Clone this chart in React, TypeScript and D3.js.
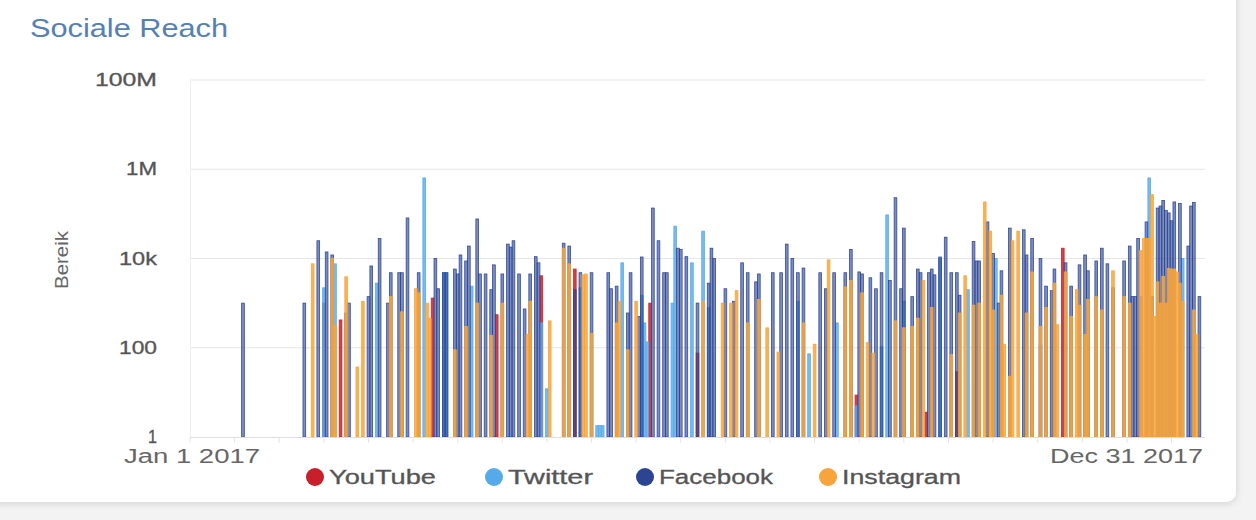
import React, { useEffect, useRef } from "react";
import * as d3 from "d3";

// [day of year, reach]
const youtube: [number, number][] = [
  [48, 1000], [54, 420], [87, 1300], [110, 550], [126, 4100], [138, 5800], [165, 1000],
  [182, 76], [239, 8.7], [264, 3.6], [275, 29], [313, 17000],
];

const twitter: [number, number][] = [
  [48, 2200], [52, 7600], [67, 2800], [84, 640000], [91, 4800], [92, 4800], [101, 2400],
  [126, 360], [128, 12], [140, 2200], [146, 1.8], [147, 1.8], [148, 1.8], [155, 8000],
  [162, 1500], [163, 360], [164, 135], [173, 1000], [174, 53000], [180, 8000], [184, 41000],
  [186, 800], [218, 1100], [222, 73], [232, 360], [239, 5], [248, 105], [250, 95000],
  [256, 1100], [269, 10000], [279, 2000], [289, 10000], [305, 115], [344, 640000], [356, 10000],
];

const facebook: [number, number][] = [
  [19, 1000], [41, 1000], [46, 25000], [49, 14000], [51, 12000], [56, 600], [57, 1000],
  [64, 1400], [65, 6800], [68, 28000], [71, 1000], [72, 4800], [75, 4800], [76, 4800],
  [78, 81000], [82, 4800], [88, 10000], [89, 2100], [91, 4800], [92, 4800], [95, 5800],
  [96, 4500], [97, 12000], [99, 8800], [100, 19000], [103, 77000], [104, 4500], [106, 4500],
  [108, 2000], [109, 7200], [112, 4500], [114, 21000], [115, 18000], [116, 25000], [118, 4500],
  [120, 740], [122, 4500], [124, 11000], [125, 8000], [134, 22000], [136, 19000], [138, 2000],
  [140, 4800], [144, 4800], [150, 4800], [151, 2100], [153, 2400], [157, 600], [158, 4800],
  [161, 500], [162, 10800], [166, 135000], [168, 25000], [170, 4800], [171, 4800], [175, 17000],
  [176, 16000], [178, 11000], [182, 1000], [186, 2800], [187, 17000], [188, 10000], [192, 2100],
  [195, 1100], [198, 8000], [200, 4800], [203, 3000], [204, 4500], [209, 4800], [212, 4800],
  [214, 21000], [216, 10000], [218, 4800], [220, 6100], [226, 4800], [228, 2100], [231, 4800],
  [235, 4800], [237, 16000], [240, 5000], [241, 4500], [244, 3700], [246, 2100], [248, 4800],
  [251, 3200], [253, 230000], [255, 2100], [256, 48000], [259, 1400], [261, 5800], [262, 4800],
  [265, 4800], [266, 5800], [267, 4300], [269, 10800], [271, 30000], [273, 4800], [275, 4800],
  [276, 1500], [281, 24000], [282, 8800], [283, 8800], [286, 66000], [288, 13000], [290, 1000],
  [291, 5300], [294, 48000], [299, 44000], [300, 12000], [302, 28000], [305, 10000], [307, 2400],
  [309, 1900], [310, 5800], [314, 8000], [316, 2400], [319, 7200], [321, 12000], [322, 5300],
  [325, 8800], [327, 17000], [329, 7600], [331, 2200], [335, 8800], [337, 19000], [338, 1400],
  [339, 1400], [340, 28000], [341, 1400], [343, 66000], [345, 1400], [347, 135000], [348, 150000],
  [349, 200000], [350, 120000], [351, 105000], [352, 70000], [353, 185000], [355, 170000],
  [358, 19000], [359, 150000], [360, 180000], [362, 1400],
];

const instagram: [number, number][] = [
  [44, 7600], [51, 10000], [52, 320], [56, 3900], [60, 37], [62, 1100], [72, 1400], [76, 640],
  [81, 2100], [82, 1700], [85, 1000], [86, 460], [95, 90], [99, 300], [103, 1000], [108, 190],
  [112, 1000], [121, 200], [122, 1100], [129, 400], [134, 17000], [136, 7600], [141, 4300],
  [142, 4500], [144, 210], [153, 360], [154, 1100], [157, 90], [160, 1100], [184, 1100],
  [191, 1000], [194, 1000], [196, 1900], [200, 360], [204, 1200], [207, 280], [211, 80],
  [220, 360], [224, 120], [229, 9300], [235, 2300], [237, 3200], [241, 1700], [243, 130],
  [245, 76], [253, 400], [256, 280], [259, 300], [261, 460], [263, 3200], [266, 800], [273, 70],
  [276, 600], [278, 4100], [281, 900], [283, 1000], [285, 185000], [287, 41000], [288, 700],
  [291, 1500], [292, 120], [294, 23], [295, 25000], [297, 41000], [300, 600], [302, 5000],
  [305, 300], [307, 800], [310, 2800], [311, 330], [314, 5000], [316, 500], [318, 2000],
  [319, 900], [321, 200], [322, 1200], [325, 1400], [327, 700], [331, 5300], [335, 1400],
  [337, 1000], [341, 15000], [342, 28000], [343, 28000], [344, 28000], [345, 270000], [346, 500],
  [347, 3000], [348, 1000], [349, 4000], [350, 1000], [351, 6000], [352, 5800], [353, 5800],
  [354, 5000], [355, 2800], [356, 1100], [360, 700], [361, 200],
];

const yTicks = [1, 100, 1e4, 1e6, 1e8];
const yTickLabels = ["1", "100", "10k", "1M", "100M"];

const series = [
  { name: "YouTube", data: youtube, color: "#c8202a", opacity: 0.85 },
  { name: "Twitter", data: twitter, color: "#55aaea", opacity: 0.8 },
  { name: "Facebook", data: facebook, color: "#2b4593", opacity: 0.62 },
  { name: "Instagram", data: instagram, color: "#f8a43a", opacity: 0.85 },
];

const W = 1256;
const H = 520;
const font = "'Liberation Sans', Arial, sans-serif";

export default function App() {
  const svgRef = useRef<SVGSVGElement>(null);

  useEffect(() => {
    const svg = d3.select(svgRef.current);
    svg.selectAll("*").remove();

    const start = new Date(2017, 0, 1);
    const end = new Date(2017, 11, 31);
    const x = d3.scaleTime().domain([start, end]).range([190, 1205]);
    const y = d3.scaleLog().domain([1, 1e8]).range([437, 80]);
    const dayX = (d: number) => x(d3.timeDay.offset(start, d));

    // background + card
    const defs = svg.append("defs");
    const f = defs.append("filter").attr("id", "sh").attr("x", "-5%").attr("y", "-5%").attr("width", "110%").attr("height", "115%");
    f.append("feDropShadow").attr("dx", 1).attr("dy", 2).attr("stdDeviation", 3).attr("flood-color", "#000").attr("flood-opacity", 0.12);
    svg.append("rect").attr("width", W).attr("height", H).attr("fill", "#f3f3f3");
    svg.append("rect").attr("x", -12).attr("y", -12).attr("width", 1248).attr("height", 514)
      .attr("rx", 10).attr("fill", "#fff").attr("filter", "url(#sh)");

    // stretched text helper
    const label = (g: any, txt: string, len: number) =>
      g.text(txt).attr("textLength", len).attr("lengthAdjust", "spacingAndGlyphs");

    label(svg.append("text").attr("x", 30).attr("y", 37).attr("font-size", 25)
      .attr("font-family", font).attr("fill", "#5580b4"), "Sociale Reach", 198);

    // grid
    svg.append("g").selectAll("line").data(yTicks.slice(1)).join("line")
      .attr("x1", 190).attr("x2", 1205).attr("y1", (d) => y(d)).attr("y2", (d) => y(d))
      .attr("stroke", "#e6e6e6").attr("stroke-width", 1);
    svg.append("line").attr("x1", 190.5).attr("x2", 190.5).attr("y1", 80).attr("y2", 437)
      .attr("stroke", "#eeeeee");

    const yLen = [9, 38, 38, 31, 62];
    svg.append("g").selectAll("text").data(yTicks).join("text")
      .attr("x", 157).attr("y", (d) => y(d) + 6).attr("text-anchor", "end")
      .attr("font-size", 18).attr("font-family", font).attr("fill", "#555")
      .attr("stroke", "#555").attr("stroke-width", 0.3)
      .text((d, i) => yTickLabels[i])
      .attr("textLength", (d, i) => yLen[i]).attr("lengthAdjust", "spacingAndGlyphs");

    label(svg.append("text").attr("transform", "translate(68,260) rotate(-90)")
      .attr("text-anchor", "middle").attr("font-size", 18).attr("font-family", font)
      .attr("fill", "#666"), "Bereik", 58);

    // bars
    const bw = 2.7;
    series.forEach((s) => {
      svg.append("g").selectAll("rect").data(s.data).join("rect")
        .attr("x", (d) => dayX(d[0]) - bw / 2)
        .attr("width", bw)
        .attr("y", (d) => y(d[1]))
        .attr("height", (d) => y(1) - y(d[1]))
        .attr("fill", s.color)
        .attr("fill-opacity", s.opacity)
        .attr("stroke", s.color)
        .attr("stroke-width", 0.8)
        .attr("stroke-opacity", 0.95);
    });

    // x axis
    svg.append("line").attr("x1", 190).attr("x2", 1205).attr("y1", 437.5).attr("y2", 437.5)
      .attr("stroke", "#dddddd");
    svg.append("g").selectAll("line").data(d3.range(0, 365, 16)).join("line")
      .attr("x1", (d) => dayX(d)).attr("x2", (d) => dayX(d)).attr("y1", 438).attr("y2", 443)
      .attr("stroke", "#e6e6e6");
    label(svg.append("text").attr("x", 124).attr("y", 463).attr("font-size", 20)
      .attr("font-family", font).attr("fill", "#666"), "Jan 1 2017", 136);
    label(svg.append("text").attr("x", 1050).attr("y", 463).attr("font-size", 20)
      .attr("font-family", font).attr("fill", "#666"), "Dec 31 2017", 153);

    // legend
    const legX = [315, 494, 645, 828];
    const legLen = [107, 85, 114, 119];
    const leg = svg.append("g").selectAll("g").data(series).join("g");
    leg.append("circle").attr("cx", (d, i) => legX[i]).attr("cy", 477).attr("r", 9)
      .attr("fill", (d) => d.color);
    leg.append("text").attr("x", (d, i) => legX[i] + 14).attr("y", 484)
      .attr("font-size", 20).attr("font-family", font).attr("fill", "#555")
      .attr("stroke", "#555").attr("stroke-width", 0.3)
      .text((d) => d.name)
      .attr("textLength", (d, i) => legLen[i]).attr("lengthAdjust", "spacingAndGlyphs");
  }, []);

  return (
    <svg ref={svgRef} width={W} height={H}
      style={{ position: "absolute", left: 0, top: 0, display: "block" }} />
  );
}
